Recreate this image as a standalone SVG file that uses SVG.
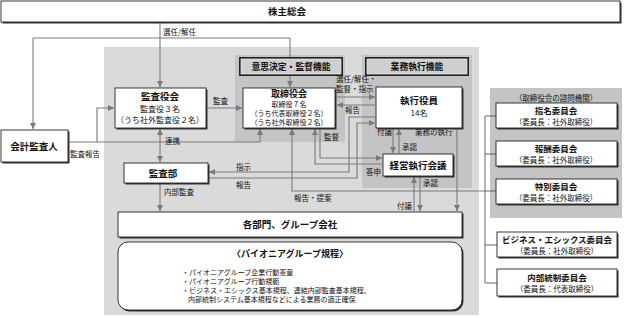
<svg xmlns="http://www.w3.org/2000/svg" width="624" height="318" viewBox="0 0 624 318">
<defs>
<marker id="ah" markerUnits="userSpaceOnUse" markerWidth="7" markerHeight="6" refX="6" refY="3" orient="auto-start-reverse">
<path d="M0,0 L6,3 L0,6 z" fill="#7a7a7a"/>
</marker>
<style>
text{font-family:"Noto Sans CJK JP","Noto Sans",sans-serif;fill:#111}
.t{font-size:9.5px;text-anchor:middle;font-weight:bold}
.s{font-size:8px;text-anchor:middle}
.l{font-size:7.5px}
.b{font-size:7px}
.box{fill:#fff;stroke:#222;stroke-width:0.9}
.sh{fill:#333}
.c{fill:none;stroke:#7a7a7a;stroke-width:1.1}
.a{marker-end:url(#ah)}
.br{fill:none;stroke:#555;stroke-width:0.9}
</style>
</defs>
<rect width="624" height="318" fill="#fff"/>
<rect x="104" y="47" width="375" height="268" fill="#dadada"/>
<rect x="235" y="55" width="110" height="87" fill="#c4c4c4"/>
<rect x="362" y="55" width="110" height="133" fill="#c4c4c4"/>
<rect x="490" y="88" width="132" height="130" fill="#c4c4c4"/>
<text class="l" x="556" y="101" text-anchor="middle">（取締役会の諮問機関）</text>

<g id="connectors">
<path class="c a" d="M160,23 V87"/>
<path class="c" d="M33,38 H290"/>
<path class="c a" d="M33,38 V129"/>
<path class="c a" d="M290,38 V87"/>
<path class="c a" d="M206,108 H242"/>
<path class="c a" d="M68,142 H260 V129"/>
<path class="c a" d="M97,142 V108 H114"/>
<path class="c a" d="M160,129 V162" style="marker-start:url(#ah)"/>
<path class="c a" d="M160,184 V211"/>
<path class="c a" d="M337,97 H375"/>
<path class="c a" d="M375,105 H337"/>
<path class="c a" d="M375,117 H349 V172 H209"/>
<path class="c a" d="M209,178 H357 V123 H375"/>
<path class="c a" d="M320,129 V158 H382"/>
<path class="c a" d="M382,164 H315 V129"/>
<path class="c a" d="M485,191 H292 V129"/>
<path class="c a" d="M393,129 V153"/>
<path class="c a" d="M399,153 V129"/>
<path class="c a" d="M457,129 V211"/>
<path class="c a" d="M414,211 V177"/>
<path class="c a" d="M420,177 V211"/>
<path class="br" d="M496,116 H485 V283 H497 M485,154 H496 M485,191 H496 M485,245 H497"/>
</g>

<g id="labels">
<text class="l" x="163" y="35">選任/解任</text>
<text class="l" x="213" y="104">監査</text>
<text class="l" x="70" y="157">監査報告</text>
<text class="l" x="165" y="144">連携</text>
<text class="l" x="164" y="195">内部監査</text>
<text class="l" x="236" y="170">指示</text>
<text class="l" x="236" y="188">報告</text>
<text class="l" x="336" y="82">選任/解任・</text>
<text class="l" x="336" y="92">監督・指示</text>
<text class="l" x="345" y="113">報告</text>
<text class="l" x="324" y="140">監督</text>
<text class="l" x="366" y="175">答申</text>
<text class="l" x="377" y="135">付議</text>
<text class="l" x="402" y="150">承認</text>
<text class="l" x="415" y="135">業務の執行</text>
<text class="l" x="423" y="186">承認</text>
<text class="l" x="397" y="209">付議</text>
<text class="l" x="294" y="201">報告・提案</text>
</g>

<g id="shareholders">
<rect class="sh" x="2.5" y="2.5" width="619" height="21"/>
<rect class="box" x="1" y="1" width="619" height="21"/>
<text class="t" x="287" y="15">株主総会</text>
</g>

<g id="func1">
<rect x="239" y="57" width="104" height="19" fill="#222"/>
<rect x="241" y="59" width="100" height="15" fill="#cfcfcf" stroke="#f0f0f0" stroke-width="0.7"/>
<text class="t" x="291" y="70" style="font-size:8.8px">意思決定・監督機能</text>
</g>
<g id="func2">
<rect x="365" y="57" width="104" height="19" fill="#222"/>
<rect x="367" y="59" width="100" height="15" fill="#cfcfcf" stroke="#f0f0f0" stroke-width="0.7"/>
<text class="t" x="417" y="70" style="font-size:8.8px">業務執行機能</text>
</g>

<g id="auditboard">
<rect class="sh" x="116.5" y="89.5" width="91" height="40"/>
<rect class="box" x="115" y="88" width="91" height="40"/>
<text class="t" x="160" y="100">監査役会</text>
<text class="s" x="160" y="112">監査役３名</text>
<text class="s" x="160" y="123">（うち社外監査役２名）</text>
</g>

<g id="board">
<rect class="sh" x="244.5" y="89.5" width="92" height="40"/>
<rect class="box" x="243" y="88" width="92" height="40"/>
<text class="t" x="289" y="97" style="font-size:9px">取締役会</text>
<text class="s" x="289" y="107" style="font-size:7px">取締役７名</text>
<text class="s" x="289" y="116" style="font-size:7px">（うち代表取締役２名）</text>
<text class="s" x="289" y="125" style="font-size:7px">（うち社外取締役２名）</text>
</g>

<g id="officers">
<rect class="sh" x="377.5" y="88.5" width="86" height="41"/>
<rect class="box" x="376" y="87" width="86" height="41"/>
<text class="t" x="419" y="104">執行役員</text>
<text class="s" x="419" y="116">14名</text>
</g>

<g id="accountant">
<rect class="sh" x="2.5" y="131.5" width="67" height="32"/>
<rect class="box" x="1" y="130" width="67" height="32"/>
<text class="t" x="34" y="150">会計監査人</text>
</g>

<g id="auditdept">
<rect class="sh" x="125.5" y="164.5" width="84" height="20"/>
<rect class="box" x="124" y="163" width="84" height="20"/>
<text class="t" x="163" y="177">監査部</text>
</g>

<g id="mgmtcommittee">
<rect class="sh" x="384.5" y="155.5" width="70" height="22"/>
<rect class="box" x="383" y="154" width="70" height="22"/>
<text class="t" x="418" y="169">経営執行会議</text>
</g>

<g id="divisions">
<rect class="sh" x="119.5" y="213.5" width="344" height="25"/>
<rect class="box" x="118" y="212" width="344" height="25"/>
<text class="t" x="290" y="228">各部門、グループ会社</text>
</g>

<g id="rules">
<rect class="sh" x="119.5" y="243.5" width="344" height="68" rx="10"/>
<rect class="box" x="118" y="242" width="344" height="68" rx="10"/>
<text class="t" x="290" y="257" style="font-size:9px">〈パイオニアグループ規程〉</text>
<text class="b" x="182" y="275">・パイオニアグループ企業行動憲章</text>
<text class="b" x="182" y="284">・パイオニアグループ行動規範</text>
<text class="b" x="182" y="293">・ビジネス・エシックス基本規程、連結内部監査基本規程、</text>
<text class="b" x="188" y="302">内部統制システム基本規程などによる業務の適正確保</text>
</g>

<g id="nomination">
<rect class="sh" x="497.5" y="104.5" width="121" height="25"/>
<rect class="box" x="496" y="103" width="121" height="25"/>
<text class="t" x="556" y="114" style="font-size:8.5px">指名委員会</text>
<text class="s" x="556" y="125" style="font-size:7.5px">（委員長：社外取締役）</text>
</g>
<g id="compensation">
<rect class="sh" x="497.5" y="142.5" width="121" height="25"/>
<rect class="box" x="496" y="141" width="121" height="25"/>
<text class="t" x="556" y="152" style="font-size:8.5px">報酬委員会</text>
<text class="s" x="556" y="163" style="font-size:7.5px">（委員長：社外取締役）</text>
</g>
<g id="special">
<rect class="sh" x="497.5" y="180.5" width="121" height="25"/>
<rect class="box" x="496" y="179" width="121" height="25"/>
<text class="t" x="556" y="190" style="font-size:8.5px">特別委員会</text>
<text class="s" x="556" y="201" style="font-size:7.5px">（委員長：社外取締役）</text>
</g>
<g id="ethics">
<rect class="sh" x="498.5" y="233.5" width="120" height="25"/>
<rect class="box" x="497" y="232" width="120" height="25"/>
<text class="t" x="557" y="243" style="font-size:8.5px">ビジネス・エシックス委員会</text>
<text class="s" x="557" y="254" style="font-size:7.5px">（委員長：社外取締役）</text>
</g>
<g id="internalcontrol">
<rect class="sh" x="498.5" y="270.5" width="120" height="27"/>
<rect class="box" x="497" y="269" width="120" height="27"/>
<text class="t" x="557" y="281" style="font-size:8.5px">内部統制委員会</text>
<text class="s" x="557" y="292" style="font-size:7.5px">（委員長：代表取締役）</text>
</g>
</svg>
